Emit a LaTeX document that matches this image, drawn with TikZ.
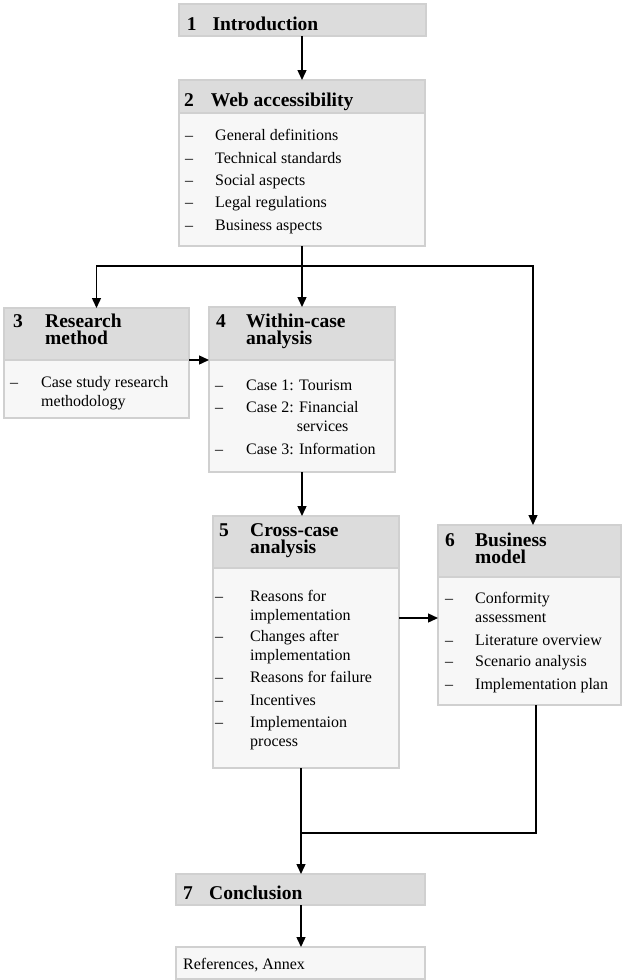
\documentclass[tikz,border=0pt]{standalone}
\usepackage{fontspec}
\setmainfont{Liberation Serif}
\usetikzlibrary{arrows.meta}
\definecolor{hdrfill}{HTML}{DCDCDC}
\definecolor{bodyfill}{HTML}{F7F7F7}
\definecolor{edge}{HTML}{D0D0D0}
\begin{document}
\begin{tikzpicture}[x=1pt,y=-1pt,
  box/.style={rectangle,draw=edge,line width=1.5pt,anchor=north west,inner sep=0pt,outer sep=0pt},
  hdr/.style={box,fill=hdrfill},
  body/.style={box,fill=bodyfill},
  ttl/.style={anchor=base west,inner sep=0pt,align=left,font=\fontsize{19.5}{17}\selectfont\bfseries},
  txt/.style={anchor=base west,inner sep=0pt,font=\fontsize{16}{19}\selectfont},
  arr/.style={line width=1.4pt,-{Triangle[length=10pt,width=9pt]}},
  wire/.style={line width=1.4pt}]
\useasboundingbox (0,0) rectangle (622,980);

% ---- boxes ----
\node[hdr,minimum width=247pt,minimum height=32pt] (h1) at (179,4) {};
\node[hdr,minimum width=246pt,minimum height=33pt] (h2) at (179,80) {};
\node[body,minimum width=246pt,minimum height=133pt] (b2) at (179,113) {};
\node[hdr,minimum width=185pt,minimum height=52pt] (h3) at (4,308) {};
\node[body,minimum width=185pt,minimum height=58pt] (b3) at (4,360) {};
\node[hdr,minimum width=186pt,minimum height=53pt] (h4) at (209,307) {};
\node[body,minimum width=186pt,minimum height=112pt] (b4) at (209,360) {};
\node[hdr,minimum width=186pt,minimum height=52pt] (h5) at (213,516) {};
\node[body,minimum width=186pt,minimum height=200pt] (b5) at (213,568) {};
\node[hdr,minimum width=183pt,minimum height=52pt] (h6) at (438,525) {};
\node[body,minimum width=183pt,minimum height=128pt] (b6) at (438,577) {};
\node[hdr,minimum width=249pt,minimum height=31pt] (h7) at (176,874) {};
\node[body,minimum width=249pt,minimum height=32pt] (refs) at (176,947) {};

% ---- titles (two-line titles: 17pt leading, placed by the last baseline) ----
\node[ttl] (n1) at (186.7,30) {1};
\node[ttl] (t1) at (212.3,30) {Introduction};
\node[ttl] (n2) at (184,106) {2};
\node[ttl] (t2) at (210.7,106) {Web accessibility};
\node[ttl] (n3) at (13,327.3) {3};
\node[ttl] (t3) at (45,344.3) {Research\\method};
\node[ttl] (n4) at (216,327.3) {4};
\node[ttl] (t4) at (246,344.3) {Within-case\\analysis};
\node[ttl] (n5) at (219,536.7) {5};
\node[ttl] (t5) at (250,553.7) {Cross-case\\analysis};
\node[ttl] (n6) at (445,546) {6};
\node[ttl] (t6) at (475,563) {Business\\model};
\node[ttl] (n7) at (183,899) {7};
\node[ttl] (t7) at (209,899) {Conclusion};

% ---- items: section 2 ----
\node[txt] (d2a) at (185,140) {–};
\node[txt] (i2a) at (215,140) {General definitions};
\node[txt] (d2b) at (185,163) {–};
\node[txt] (i2b) at (215,163) {Technical standards};
\node[txt] (d2c) at (185,185) {–};
\node[txt] (i2c) at (215,185) {Social aspects};
\node[txt] (d2d) at (185,207) {–};
\node[txt] (i2d) at (215,207) {Legal regulations};
\node[txt] (d2e) at (185,230) {–};
\node[txt] (i2e) at (215,230) {Business aspects};

% ---- items: section 3 ----
\node[txt] (d3a) at (10,387.3) {–};
\node[txt] (i3a) at (41,387.3) {Case study research};
\node[txt] (i3b) at (41,406) {methodology};

% ---- items: section 4 ----
\node[txt] (d4a) at (215,390) {–};
\node[txt] (i4a) at (246,390) {Case 1: Tourism};
\node[txt] (d4b) at (215,412.3) {–};
\node[txt] (i4b) at (246,412.3) {Case 2: Financial};
\node[txt] (i4c) at (296.7,431.7) {services};
\node[txt] (d4d) at (215,454) {–};
\node[txt] (i4d) at (246,454) {Case 3: Information};

% ---- items: section 5 ----
\node[txt] (d5a) at (215,601) {–};
\node[txt] (i5a) at (250,601) {Reasons for};
\node[txt] (i5b) at (250,620) {implementation};
\node[txt] (d5c) at (215,641.7) {–};
\node[txt] (i5c) at (250,641.7) {Changes after};
\node[txt] (i5d) at (250,660.7) {implementation};
\node[txt] (d5e) at (215,682.7) {–};
\node[txt] (i5e) at (250,682.7) {Reasons for failure};
\node[txt] (d5f) at (215,705) {–};
\node[txt] (i5f) at (250,705) {Incentives};
\node[txt] (d5g) at (215,727.3) {–};
\node[txt] (i5g) at (250,727.3) {Implementaion};
\node[txt] (i5h) at (250,746.7) {process};

% ---- items: section 6 ----
\node[txt] (d6a) at (445,603.3) {–};
\node[txt] (i6a) at (475,603.3) {Conformity};
\node[txt] (i6b) at (475,622.7) {assessment};
\node[txt] (d6c) at (445,645) {–};
\node[txt] (i6c) at (475,645) {Literature overview};
\node[txt] (d6d) at (445,666.7) {–};
\node[txt] (i6d) at (475,666.7) {Scenario analysis};
\node[txt] (d6e) at (445,689.3) {–};
\node[txt] (i6e) at (475,689.3) {Implementation plan};

% ---- closing box ----
\node[txt] (r1) at (183,969) {References, Annex};

% ---- connectors ----
\coordinate (bus) at (302,266);
\coordinate (c56) at (0,618);
\coordinate (merge) at (301,833);

\draw[arr] (h2.north |- h1.south) -- (h2.north);
\draw[arr] (b2.south) -- (h4.north);
\draw[arr] (bus) -| (h3.north);
\draw[arr] (bus) -| ([xshift=3.5pt]h6.north);
\draw[arr] (h3.south east) -- (h4.south west);
\draw[arr] (b4.south) -- (b4.south |- h5.north);
\draw[arr] (b5.east |- c56) -- (b6.west |- c56);
\draw[wire] ([xshift=6.5pt]b6.south) |- (merge);
\draw[arr] (merge |- b5.south) -- (merge |- h7.north);
\draw[arr] (merge |- h7.south) -- (merge |- refs.north);
\end{tikzpicture}
\end{document}
